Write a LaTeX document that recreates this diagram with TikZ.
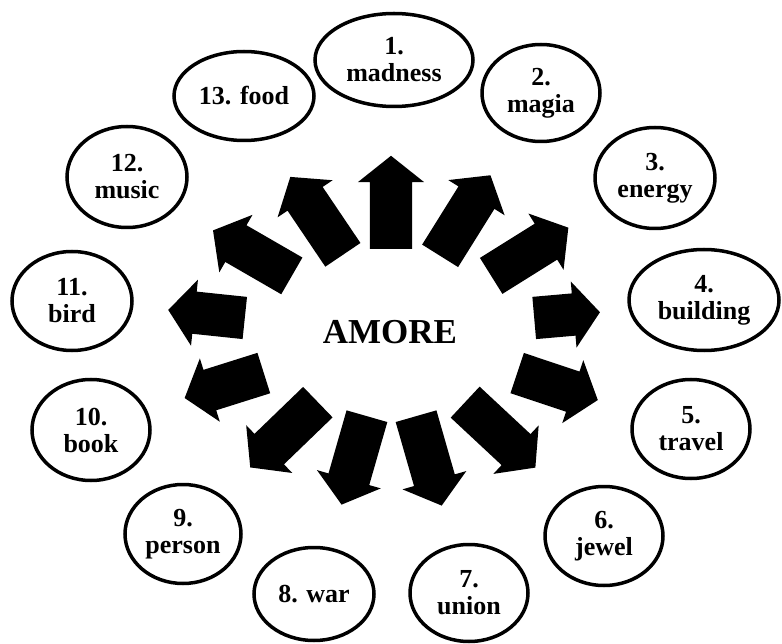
\documentclass[tikz,border=0pt]{standalone}
\usepackage{fontspec}
\setmainfont{Liberation Serif}
\usepackage{tikz}
\usetikzlibrary{shapes}

\tikzset{
  bubble/.style={draw, ellipse, line width=3.5pt, inner sep=0pt, align=center,
    font=\fontsize{26}{27}\selectfont\bfseries},
  bigarrow/.style={single arrow, fill=black, draw=none, anchor=tail,
    inner xsep=0pt, inner ysep=21pt, text height=0pt, text depth=0pt,
    single arrow head extend=12pt, single arrow tip angle=103, minimum width=66pt}
}

\begin{document}
\begin{tikzpicture}[x=1pt,y=-1pt]
        \useasboundingbox (0,0) rectangle (782,644);
        % centre word
        \node[font=\fontsize{35}{35}\selectfont\bfseries] (amore) at (390,332) {AMORE};
        % the thirteen bubbles
        \node[bubble, minimum width=158pt, minimum height=93pt] (madness) at (394,60) {1.\\madness};
        \node[bubble, minimum width=118pt, minimum height=97pt] (magia) at (541,93) {2.\\magia};
        \node[bubble, minimum width=120pt, minimum height=101pt] (energy) at (655,178) {3.\\energy};
        \node[bubble, minimum width=150pt, minimum height=101pt] (building) at (704,300) {4.\\building};
        \node[bubble, minimum width=118pt, minimum height=99pt] (travel) at (691,429) {5.\\travel};
        \node[bubble, minimum width=118pt, minimum height=99pt] (jewel) at (604,536) {6.\\jewel};
        \node[bubble, minimum width=118pt, minimum height=97pt] (union) at (469,593) {7.\\union};
        \node[bubble, minimum width=120pt, minimum height=93pt] (war) at (314,594) {8. war};
        \node[bubble, minimum width=116pt, minimum height=99pt] (person) at (183,534) {9.\\person};
        \node[bubble, minimum width=118pt, minimum height=101pt] (book) at (91,430) {10.\\book};
        \node[bubble, minimum width=120pt, minimum height=99pt] (bird) at (72,301) {11.\\bird};
        \node[bubble, minimum width=120pt, minimum height=101pt] (music) at (127,177) {12.\\music};
        \node[bubble, minimum width=140pt, minimum height=89pt] (food) at (244,96) {13. food};
        % block arrows, clockwise from the top
        \node[bigarrow, rotate=90, minimum height=93pt] (arr1) at (391,249) {};
        \node[bigarrow, rotate=58, minimum height=95pt] (arr2) at (440,256) {};
        \node[bigarrow, rotate=32, minimum height=91pt] (arr3) at (491,276) {};
        \node[bigarrow, rotate=5, minimum height=66pt] (arr4) at (534,318) {};
        \node[bigarrow, rotate=-18.5, minimum height=85pt] (arr5) at (517,373) {};
        \node[bigarrow, rotate=-43, minimum height=96pt] (arr6) at (465,402) {};
        \node[bigarrow, rotate=-74, minimum height=93pt] (arr7) at (416,416) {};
        \node[bigarrow, rotate=254, minimum height=92pt] (arr8) at (367,416) {};
        \node[bigarrow, rotate=224, minimum height=94pt] (arr9) at (318,402) {};
        \node[bigarrow, rotate=197.5, minimum height=83pt] (arr10) at (264,373) {};
        \node[bigarrow, rotate=174, minimum height=77pt] (arr11) at (245,318) {};
        \node[bigarrow, rotate=150, minimum height=91pt] (arr12) at (292,276) {};
        \node[bigarrow, rotate=124, minimum height=94pt] (arr13) at (343,255) {};
\end{tikzpicture}
\end{document}
